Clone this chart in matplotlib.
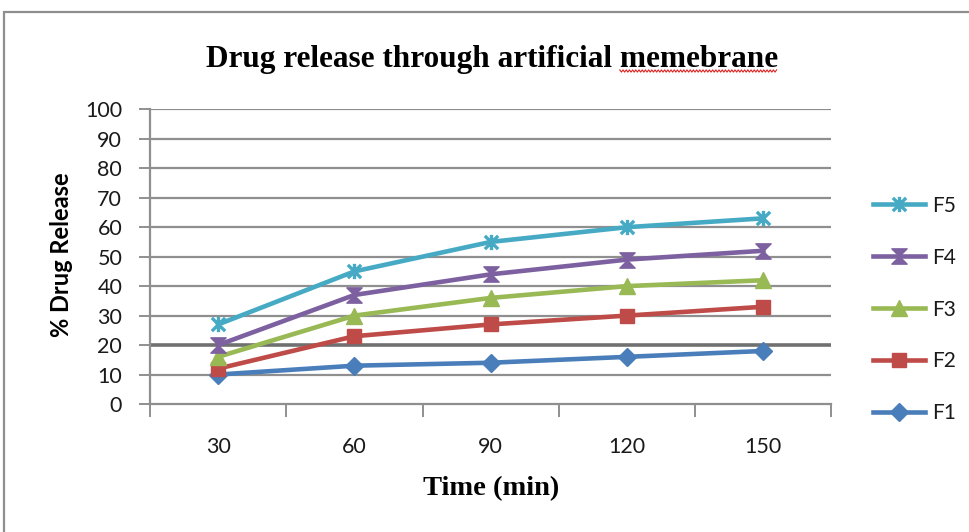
import numpy as np
import matplotlib
matplotlib.use("Agg")
import matplotlib.pyplot as plt
from matplotlib.path import Path
from matplotlib.patches import Rectangle
from matplotlib.lines import Line2D
from matplotlib.ticker import FixedLocator, NullFormatter

# Sampling times (min) and cumulative % drug release per formulation
times = [30, 60, 90, 120, 150]
f1 = [10, 13, 14, 16, 18]
f2 = [12, 23, 27, 30, 33]
f3 = [16, 30, 36, 40, 42]
f4 = [20, 37, 44, 49, 52]
f5 = [27, 45, 55, 60, 63]
series_names = ["F1", "F2", "F3", "F4", "F5"]
y_ticks = list(range(0, 101, 10))

W, H = 970, 532
fig = plt.figure(figsize=(W / 100, H / 100), dpi=100)
fig.patch.set_facecolor("white")

# outer chart border
fig.patches.append(Rectangle((4 / W, -0.05), 1.2, 1 - 12 / H + 0.05,
                             transform=fig.transFigure, fill=False,
                             edgecolor="#8f8f8f", linewidth=1.6, zorder=0))

ax = fig.add_axes([150 / W, 1 - 404 / H, (831.5 - 150) / W, (404 - 109.3) / H])

hourglass = Path([(-1, 1), (1, 1), (-1, -1), (1, -1), (-1, 1)],
                 [Path.MOVETO, Path.LINETO, Path.LINETO, Path.LINETO, Path.CLOSEPOLY])
star = Path([(-1, -1), (1, 1), (-1, 1), (1, -1), (0, -1.15), (0, 1.15)],
            [Path.MOVETO, Path.LINETO, Path.MOVETO, Path.LINETO, Path.MOVETO, Path.LINETO])

styles = [
    dict(color="#4A7EBB", marker="D", ms=9.5),
    dict(color="#BE4B48", marker="s", ms=10.5),
    dict(color="#98B954", marker="^", ms=11),
    dict(color="#7D60A0", marker=hourglass, ms=11),
    dict(color="#46AAC5", marker=star, ms=11, mfc="none", mew=2.4),
]

x = np.arange(len(times))
for name, vals, st in zip(series_names, [f1, f2, f3, f4, f5], styles):
    ax.plot(x, vals, label=name, linewidth=3.3, zorder=3, clip_on=False, **st)

ax.set_xlim(-0.5, len(times) - 0.5)
ax.set_ylim(0, 100)

# gridlines
for v in y_ticks[1:]:
    if v == 20:
        ax.axhline(v, color="#707070", linewidth=2.6, zorder=1)
    else:
        ax.axhline(v, color="#8f8f8f", linewidth=1.6, zorder=1)

for s in ["top", "right"]:
    ax.spines[s].set_visible(False)
for s in ["left", "bottom"]:
    ax.spines[s].set_color("#8f8f8f")
    ax.spines[s].set_linewidth(1.6)

tick_font = dict(family=["Lato", "DejaVu Sans"], size=15.5, color="#1a1a1a")

ax.set_yticks(y_ticks)
ax.set_yticklabels([str(v) for v in y_ticks], fontdict=tick_font)
ax.tick_params(axis="y", direction="out", length=8, width=1.4, color="#8f8f8f", pad=12)

ax.set_xticks(x)
ax.set_xticklabels([str(t) for t in times], fontdict=tick_font)
ax.tick_params(axis="x", which="major", length=0, pad=24)
ax.xaxis.set_minor_locator(FixedLocator(np.arange(-0.5, len(times), 1.0)))
ax.xaxis.set_minor_formatter(NullFormatter())
ax.tick_params(axis="x", which="minor", direction="out", length=9, width=1.4, color="#8f8f8f")

# axis titles
fig.text(491 / W, 1 - 489 / H, "Time (min)", ha="center", va="center",
         family=["Liberation Serif"], weight="bold", size=20.5, color="black")
fig.text(62 / W, 1 - 255 / H, "% Drug Release", ha="center", va="center", rotation=90,
         family=["Lato", "DejaVu Sans"], weight="bold", size=17, color="black")

title_prop = dict(family=["Liberation Serif"], weight="bold", size=22.5)
title = fig.text(492 / W, 1 - 67 / H, "Drug release through artificial memebrane",
                 ha="center", va="baseline", color="black", **title_prop)

handles, labels = ax.get_legend_handles_labels()
leg = fig.legend(handles[::-1], labels[::-1], loc="center left",
                 bbox_to_anchor=(873 / W, 1 - 309.5 / H), frameon=False,
                 prop=dict(family=["Lato", "DejaVu Sans"], size=15),
                 handlelength=2.5, handletextpad=0.35, labelspacing=1.53,
                 borderpad=0, borderaxespad=0, numpoints=1)
for t in leg.get_texts():
    t.set_color("#1a1a1a")

# wavy underline beneath the last word of the title
fig.canvas.draw()
renderer = fig.canvas.get_renderer()
bb = title.get_window_extent(renderer)
w_word, _, _ = renderer.get_text_width_height_descent("memebrane", title.get_fontproperties(), ismath=False)
x0, x1 = bb.x1 - w_word, bb.x1
xs = np.arange(x0, x1 + 0.1, 1.6)
ys = (H - 71) + np.where(np.arange(len(xs)) % 2 == 0, 1.1, -1.1)
fig.lines.append(Line2D(xs / W, ys / H, transform=fig.transFigure,
                        color="#e02020", linewidth=0.8))

fig.savefig("out.png", dpi=100, facecolor="white")
